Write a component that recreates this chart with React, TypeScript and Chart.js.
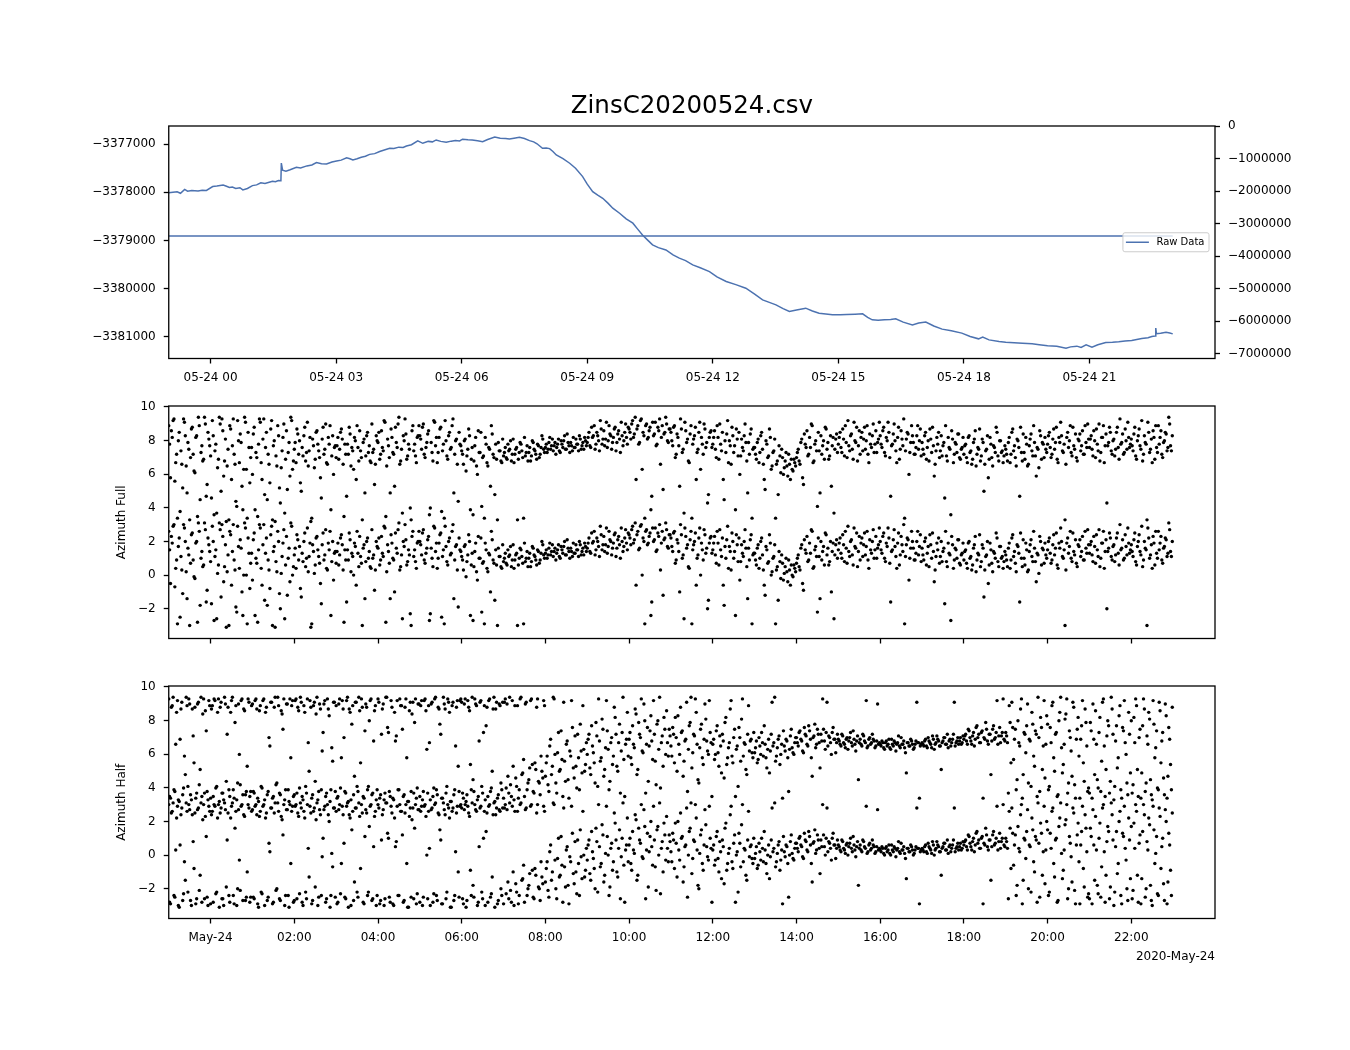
import React, { useEffect, useRef } from 'react';
import { Chart, registerables } from 'chart.js';

Chart.register(...registerables);

// ---------------- data ----------------
const FILE_TITLE = 'ZinsC20200524.csv';
const RAW_LABEL = 'Raw Data';
const AZ_FULL_LABEL = 'Azimuth Full';
const AZ_HALF_LABEL = 'Azimuth Half';
const DATE_OFFSET_LABEL = '2020-May-24';

// hours relative to 2020-05-24 00:00
const X_MIN_HOUR = -1;
const X_MAX_HOUR = 24;

// [hour, raw value]
const RAW_HOUR_VALUE: [number, number][] = [
  [-1.0, -3378010], [-0.9, -3378000], [-0.8, -3377990], [-0.72, -3378020], [-0.62, -3377940], [-0.55, -3377975],
  [-0.45, -3377960], [-0.3, -3377970], [-0.2, -3377955], [-0.1, -3377960], [0.05, -3377880], [0.15, -3377870],
  [0.3, -3377850], [0.38, -3377875], [0.45, -3377900], [0.52, -3377890], [0.6, -3377920], [0.7, -3377905],
  [0.77, -3377950], [0.88, -3377920], [1.0, -3377860], [1.1, -3377845], [1.2, -3377800], [1.3, -3377815],
  [1.4, -3377790], [1.48, -3377770], [1.55, -3377780], [1.62, -3377755], [1.68, -3377760], [1.69, -3377390],
  [1.72, -3377540], [1.8, -3377560], [1.9, -3377530], [2.05, -3377480], [2.15, -3377495], [2.3, -3377450],
  [2.42, -3377430], [2.53, -3377380], [2.65, -3377405], [2.77, -3377410], [2.9, -3377370], [3.01, -3377350],
  [3.12, -3377330], [3.25, -3377280], [3.33, -3377300], [3.4, -3377325], [3.5, -3377300], [3.6, -3377270],
  [3.7, -3377250], [3.8, -3377210], [3.92, -3377195], [4.04, -3377150], [4.15, -3377120], [4.28, -3377085],
  [4.38, -3377090], [4.5, -3377060], [4.6, -3377065], [4.68, -3377035], [4.8, -3377010], [4.95, -3376930],
  [5.07, -3376980], [5.2, -3376940], [5.3, -3376950], [5.39, -3376910], [5.5, -3376940], [5.63, -3376960],
  [5.75, -3376935], [5.85, -3376920], [5.95, -3376930], [6.02, -3376895], [6.15, -3376905], [6.25, -3376910],
  [6.38, -3376925], [6.5, -3376945], [6.62, -3376900], [6.79, -3376850], [6.92, -3376875], [7.05, -3376880],
  [7.14, -3376890], [7.25, -3376875], [7.38, -3376855], [7.5, -3376880], [7.62, -3376925], [7.72, -3376950],
  [7.8, -3376990], [7.93, -3377085], [8.02, -3377080], [8.1, -3377090], [8.18, -3377150], [8.26, -3377222],
  [8.42, -3377300], [8.58, -3377395], [8.72, -3377500], [8.89, -3377673], [9.0, -3377830], [9.13, -3377985],
  [9.25, -3378060], [9.37, -3378123], [9.5, -3378230], [9.61, -3378330], [9.78, -3378440], [9.93, -3378553],
  [10.09, -3378642], [10.2, -3378760], [10.32, -3378886], [10.45, -3379000], [10.56, -3379093], [10.7, -3379150],
  [10.88, -3379198], [11.05, -3379300], [11.2, -3379370], [11.35, -3379420], [11.52, -3379510], [11.7, -3379570],
  [11.92, -3379648], [12.1, -3379760], [12.32, -3379856], [12.55, -3379920], [12.79, -3379994], [13.0, -3380120],
  [13.19, -3380237], [13.35, -3380290], [13.51, -3380341], [13.68, -3380420], [13.83, -3380480], [14.0, -3380450],
  [14.22, -3380410], [14.38, -3380470], [14.54, -3380514], [14.7, -3380530], [14.86, -3380549], [15.05, -3380545],
  [15.2, -3380540], [15.4, -3380535], [15.58, -3380528], [15.7, -3380600], [15.81, -3380653], [15.95, -3380660],
  [16.1, -3380650], [16.25, -3380645], [16.37, -3380632], [16.55, -3380700], [16.77, -3380757], [16.92, -3380720],
  [17.09, -3380700], [17.28, -3380780], [17.48, -3380846], [17.7, -3380880], [17.95, -3380929], [18.15, -3381000],
  [18.35, -3381048], [18.45, -3381010], [18.6, -3381070], [18.84, -3381104], [19.0, -3381120], [19.2, -3381130],
  [19.4, -3381140], [19.63, -3381152], [19.8, -3381170], [20.0, -3381190], [20.22, -3381200], [20.44, -3381241],
  [20.55, -3381215], [20.7, -3381200], [20.8, -3381225], [20.92, -3381173], [21.06, -3381220], [21.2, -3381170],
  [21.39, -3381125], [21.55, -3381120], [21.7, -3381110], [21.85, -3381095], [22.01, -3381083], [22.25, -3381040],
  [22.4, -3381025], [22.49, -3381000], [22.57, -3380990], [22.585, -3380825], [22.6, -3380940], [22.7, -3380930],
  [22.83, -3380909], [22.92, -3380925], [22.99, -3380944],
];

const LEFT_Y_MIN = -3381457;
const LEFT_Y_MAX = -3376620;
const LEFT_Y_TICKS = [-3381000, -3380000, -3379000, -3378000, -3377000];
const RIGHT_Y_MIN = -7145000;
const RIGHT_Y_MAX = 0;
const RIGHT_Y_TICKS = [-7000000, -6000000, -5000000, -4000000, -3000000, -2000000, -1000000, 0];

const TOP_X_TICKS = [0, 3, 6, 9, 12, 15, 18, 21];
const TOP_X_LABELS = ['05-24 00', '05-24 03', '05-24 06', '05-24 09', '05-24 12', '05-24 15', '05-24 18', '05-24 21'];
const BOTTOM_X_TICKS = [0, 2, 4, 6, 8, 10, 12, 14, 16, 18, 20, 22];
const BOTTOM_X_LABELS = ['May-24', '02:00', '04:00', '06:00', '08:00', '10:00', '12:00', '14:00', '16:00', '18:00', '20:00', '22:00'];

const AZ_Y_MIN = -3.77;
const AZ_Y_MAX = 10.05;
const AZ_Y_TICKS = [-2, 0, 2, 4, 6, 8, 10];
const PHASE_WRAP = 2 * Math.PI; // each azimuth is also plotted one full turn higher

// azimuth samples every 2.5 minutes from 23:00 (May 23); the B series sits half a step later
const SAMPLE_START_HOUR = -1;
const SAMPLE_STEP_HOUR = 1 / 24;
const SAMPLE_B_OFFSET_HOUR = 1 / 48;

const AZ_FULL_A = [
  2.6, -0.5, 1.9, 3.0, 0.4, -2.9, 2.2, 1.1, -1.1, 2.8, 0.2, 1.6, -3.0, 2.4, 0.9, -0.2, 2.0, 3.1, -1.8, 1.4, 0.6, 2.7, -0.9, 1.8,
  0.8, 2.9, -2.7, 1.5, 0.1, 3.1, -1.3, 2.3, 0.5, -3.1, 1.2, 2.6, -0.6, 3.0, 0.3, -2.2, 1.7, 2.1, -1.0, 0.0, 2.8, -2.9, 1.3, 0.7,
  -0.3, 2.5, 1.0, -2.8, 3.0, 0.4, 1.8, -1.5, 2.2, 0.9, -0.8, 2.9, 1.4, -3.1, 0.2, 2.0, -2.0, 1.1, 2.7, 0.6, -1.2, 1.6, 3.1, 0.0,
  1.2, 0.4, 2.1, 1.7, -1.3, 0.8, 2.5, 1.0, 0.2, 1.9, -2.9, 1.4, 0.6, 2.3, 1.1, -0.5, 1.8, 0.9, 2.7, 0.3, 1.5, -2.4, 2.0, 1.3,
  0.7, 1.9, 1.2, 2.4, 0.3, 1.5, -1.6, 0.9, 2.1, 1.3, 0.0, 1.7, 2.6, 0.5, 1.1, -3.0, 1.8, 0.8, 2.2, 1.4, 0.4, 1.0, -0.9, 2.0,
  1.6, 0.6, 2.3, 1.1, 2.8, 0.2, 1.4, -1.4, 1.9, 0.9, 2.5, 1.3, 3.1, 0.5, -2.6, 1.7, 2.1, 0.8, 1.2, -3.0, 2.6, 1.5, 0.4, 2.0,
  2.0, 1.2, 2.7, 0.7, 1.6, 2.3, -2.3, 1.0, 2.9, 1.4, 0.4, 1.9, 2.5, 1.1, -2.9, 1.7, 0.6, 2.2, 1.3, 3.0, 0.9, 1.8, -1.9, 1.5,
  1.1, 0.3, 1.8, 0.8, 2.4, -2.4, 1.3, 0.5, 1.9, -0.3, 1.0, 2.2, 0.7, -2.9, 1.5, 0.2, 1.2, 2.6, 0.9, -1.5, 0.6, 1.6, 1.1, 0.4,
  0.8, 1.3, 0.6, 1.1, 1.7, 0.9, 0.4, 1.2, -3.0, 1.0, 1.5, 0.7, 1.9, 1.0, 0.5, 1.3, 0.8, 1.6, 1.1, 0.6, 1.4, 0.9, 2.0, 1.2,
  1.3, 1.0, 1.6, 1.2, 1.8, 1.4, 0.9, 1.5, 1.1, 1.7, 1.3, 2.0, 1.2, 1.6, 1.0, 1.4, 1.9, 1.3, 1.5, 1.1, 1.8, 1.4, 1.2, 1.7,
  1.6, 2.2, 1.3, 1.9, 2.6, 1.5, 2.0, 1.1, 2.4, 1.8, 1.4, 2.8, 1.7, 2.1, 1.2, 1.9, 2.5, 1.6, 2.3, 1.0, 2.0, 1.7, 2.7, 1.5,
  2.4, 1.8, 2.9, 2.1, -0.6, 2.6, 1.6, 3.0, 2.2, -2.9, 2.7, 1.9, 2.5, -1.6, 2.0, 2.8, 1.5, 2.3, 0.3, 2.6, 2.1, 3.1, 1.7, 2.4,
  2.2, 1.4, 2.6, 0.9, 1.9, -1.0, 2.4, 1.2, 2.8, 1.6, 0.5, 2.1, -2.9, 1.8, 2.5, 1.0, 2.2, 0.0, 1.5, 2.7, 1.3, -2.0, 1.9, 2.3,
  1.5, 2.3, 0.7, 1.9, 2.7, 1.1, -0.6, 1.7, 2.1, 0.4, 1.4, 2.5, 1.0, -2.4, 1.8, 2.2, 0.8, 1.3, 2.0, 1.6, -1.4, 0.9, 2.4, 1.2,
  1.3, 0.6, 1.8, 1.0, 2.2, 0.3, -1.2, 1.5, 0.8, 1.9, 0.2, 1.1, -2.9, 0.5, 1.4, -0.2, 0.7, 0.1, 1.0, -0.4, 0.3, 0.6, -0.1, 0.4,
  0.7, 1.2, 0.3, 1.8, -0.9, 1.5, 2.3, 0.9, 1.3, 2.6, 0.5, 1.7, -2.2, 1.1, 2.0, 1.4, 0.6, 2.4, 1.6, 0.8, -1.0, 1.9, 1.2, 2.1,
  1.5, 2.2, 1.0, 1.8, 2.6, 0.7, 1.4, 2.0, 1.2, 2.8, 1.6, 0.5, 2.3, 1.9, 1.1, 2.5, 1.7, 0.9, 2.1, 1.3, 2.7, 1.5, 1.0, 1.8,
  2.0, 1.3, 2.5, 0.8, 1.7, 2.2, -1.6, 1.5, 2.7, 1.1, 1.9, 0.6, 2.3, 1.4, -2.9, 1.8, 2.1, 1.0, 2.6, 1.6, 0.9, 2.0, 1.2, 2.4,
  1.6, 0.9, 2.2, 1.3, 0.5, 1.8, 2.5, -0.4, 1.1, 1.5, 0.7, 2.0, 1.4, -1.7, 0.8, 1.9, 1.2, 2.3, 0.4, 1.6, 1.0, 2.1, 0.6, 1.3,
  0.9, 1.5, 0.4, 2.0, 1.1, 0.6, 1.8, 0.2, 1.3, 2.4, 0.8, 1.6, 0.3, 1.2, -0.5, 1.9, 0.7, 1.4, 1.0, 2.2, 0.5, 1.7, 1.1, 0.8,
  1.2, 0.5, 1.9, 0.9, 2.4, 1.4, 0.2, 1.7, -1.6, 1.0, 2.1, 0.6, 1.5, 0.3, 1.8, 1.1, 2.6, 0.8, 1.3, 0.1, 2.0, 1.6, 0.7, 1.2,
  1.5, 2.2, 0.7, 1.8, 1.2, 2.5, 0.4, 1.6, 2.0, 1.0, -3.0, 1.9, 1.3, 2.6, 0.8, 1.4, 2.1, 0.5, 1.7, 1.1, 2.3, 0.9, 1.6, 2.7,
  1.3, 2.0, 0.8, 1.7, 2.4, 1.1, 0.5, 1.9, 2.6, 1.4, -2.0, 1.6, 2.2, 0.9, 1.8, 1.2, 2.5, 0.6, 1.5, 2.1, 1.0, 1.7, 2.8, 1.3,
  1.8, 1.1, 2.5, 0.6, 2.0, 1.4, 2.9, 0.9, 1.6, -3.0, 2.2, 1.2, 0.4, 1.9, 2.6, 1.0, 1.5, 2.3, 0.7, 1.7, 2.1, 1.3, 2.7, 1.1,
];

const AZ_FULL_B = [
  1.5, 2.3, 2.9, -0.7, 0.9, 1.7, -2.5, 0.3, 3.0, 2.0, -1.4, 1.2, 0.7, 2.5, -0.1, 1.9, -2.8, 2.6, 1.0, 0.5, 3.1, -1.6, 2.2, 1.4,
  -1.7, 2.0, 1.1, -2.6, 0.6, 2.7, 3.0, -0.4, 1.8, 0.2, -3.0, 2.4, 1.4, 0.9, -1.9, 2.9, 0.4, 1.6, -2.4, 3.1, 0.0, 2.2, -0.8, 1.3,
  2.1, -2.4, 0.7, 1.5, 2.8, -0.6, 3.0, 1.3, -1.8, 0.3, 2.4, -3.0, 1.7, 0.8, 2.6, -1.1, 0.1, 1.9, -2.6, 2.3, 1.0, -0.4, 2.9, 0.5,
  1.6, 2.4, 0.9, -0.8, 1.3, 2.0, 0.5, 2.8, 1.1, -3.1, 1.8, 0.1, 2.2, 1.5, 0.7, -1.7, 2.5, 1.2, 0.4, 1.9, 2.6, 0.8, -0.3, 1.4,
  1.4, 0.6, 2.2, 1.8, -2.8, 0.9, 1.5, 2.5, 0.2, 1.1, 1.9, -0.6, 1.3, 2.3, 0.7, 1.6, -1.4, 2.0, 1.0, 0.5, 2.7, 1.2, 0.3, 1.7,
  2.2, 0.9, 1.3, 2.9, -2.8, 1.8, 0.7, 2.4, 1.0, -1.0, 1.6, 2.7, 0.3, 1.2, 2.0, 3.0, 0.6, 1.5, -2.3, 2.3, 1.1, 0.8, 1.9, 2.6,
  1.8, 2.5, 0.9, 1.3, 2.1, -2.7, 1.6, 0.5, 2.8, 1.9, 1.0, 2.4, -2.5, 1.5, 2.9, 0.8, 2.0, 1.2, 2.6, -1.4, 1.7, 0.3, 2.2, 1.4,
  0.9, 1.7, -0.1, 1.2, 2.0, 0.6, -2.7, 1.4, 0.2, 2.3, 1.0, -2.2, 0.8, 1.9, 0.4, 1.3, -1.0, 2.1, 0.7, 1.5, -3.0, 1.1, 0.5, 1.8,
  1.0, 0.7, 1.5, 1.2, 0.5, 1.8, 0.9, 1.3, 0.6, 1.6, 1.1, -2.9, 0.8, 1.4, 1.0, 0.5, 1.7, 1.2, 0.9, 1.5, 0.7, 1.3, 1.8, 1.0,
  1.5, 1.2, 1.9, 1.4, 1.1, 1.6, 1.3, 1.8, 1.0, 1.5, 1.7, 1.2, 2.1, 1.4, 1.6, 1.1, 1.3, 1.8, 1.5, 2.0, 1.2, 1.6, 1.9, 1.4,
  1.9, 1.4, 2.5, 2.0, 1.2, 2.2, 1.7, 2.9, 1.5, 2.3, 1.8, 1.3, 2.6, 2.0, 1.6, 2.4, 1.1, 2.1, 1.8, 2.8, 1.4, 2.2, 1.9, 2.5,
  2.2, 2.7, 1.9, 3.1, 2.4, 1.5, 2.9, 0.0, 2.0, 2.6, 1.8, 2.3, -2.4, 2.8, 2.1, 1.4, 2.5, 3.0, 1.9, -1.2, 2.2, 2.7, 1.6, 2.4,
  1.7, 2.5, 0.7, 2.1, 1.4, 3.0, 1.0, -2.6, 2.3, 1.8, 0.4, 2.6, 1.5, 2.0, -0.6, 1.2, 2.8, 1.9, 0.9, 2.4, 1.6, -1.5, 2.2, 1.3,
  1.9, 1.2, 2.6, 0.6, 1.5, 2.2, -1.8, 1.0, 2.9, 1.7, 0.3, 2.0, 1.4, 2.4, 0.8, -0.3, 1.8, 1.1, 2.7, 0.5, 1.6, 2.1, -2.9, 1.3,
  0.9, 1.6, 0.4, 2.0, 1.2, -0.6, 1.7, 0.7, 2.4, 0.0, 1.0, 1.8, 0.3, -1.5, 0.8, 1.2, -0.3, 0.5, 0.2, 0.9, -0.6, 0.0, 0.6, 0.2,
  1.0, 0.5, 1.6, -0.5, 2.1, 1.3, 0.8, 1.9, 2.7, 0.4, 1.5, 1.1, 2.2, -1.4, 0.9, 1.7, 2.5, 1.2, 0.6, 2.0, 1.4, -2.6, 1.8, 1.0,
  1.9, 1.3, 2.4, 0.8, 1.6, 2.9, 1.1, 2.1, 0.6, 1.7, 2.5, 1.4, 0.9, 2.2, 1.8, 1.2, 2.6, 0.4, 1.5, 2.0, 1.0, 2.3, 1.6, 2.8,
  1.5, 2.3, 1.0, 1.9, 2.8, 0.7, 1.4, 2.1, 1.7, 0.4, 2.5, 1.2, 1.8, 3.0, 1.1, 2.2, -0.3, 1.6, 2.0, 0.9, 1.3, 2.6, 1.7, 0.8,
  1.2, 2.0, 0.6, 1.7, 2.4, 1.0, 1.4, 0.3, 1.9, 2.2, 1.1, 0.8, 1.6, 2.6, 0.5, 1.3, -2.7, 1.8, 0.9, 1.5, 2.1, 0.7, 1.2, 1.9,
  1.4, 0.7, 1.9, 1.0, 0.3, 1.6, 2.3, 0.9, 1.2, 0.5, 1.8, -1.3, 1.1, 2.0, 0.6, 1.5, 0.2, 1.3, 2.5, 0.8, 1.7, 1.0, 0.4, 1.4,
  0.9, 1.6, 0.4, 2.2, 1.1, 0.7, 1.8, 1.3, 2.5, 0.5, 1.0, 1.9, 0.2, 1.4, 2.1, 0.8, 1.6, -0.4, 1.2, 2.3, 0.6, 1.5, 1.9, 1.0,
  2.0, 1.3, 0.9, 2.4, 1.6, 0.6, 1.9, 2.8, 1.1, 1.5, 0.3, 2.2, 1.7, 1.0, 2.5, 1.2, 0.7, 1.8, 2.1, 1.4, 0.9, 2.6, 1.3, 1.8,
  1.8, 1.2, 2.3, 0.7, 1.5, 2.7, 1.0, 1.9, 0.4, 2.1, 1.4, 2.5, 1.1, 1.7, 0.8, 2.2, 1.3, 3.0, 1.6, 0.9, 2.4, 1.2, 1.9, 1.5,
  1.4, 2.1, 0.8, 1.7, 2.4, 1.2, 0.5, 2.0, 1.5, 2.8, 1.0, 1.8, 2.3, 0.6, 1.3, 2.6, 1.9, 0.9, 1.6, 2.2, 1.1, 3.1, 1.4, 2.0,
];

const AZ_HALF_A = [
  3.0, -2.9, 2.6, -2.4, 0.3, 2.9, -3.1, 2.4, -2.7, -0.4, 3.1, -2.2, 2.7, -3.0, 0.8, 2.5, -2.6, 2.8, -1.2, -2.8, 3.0, 2.3, -2.5, 2.9,
  -2.9, 2.6, 3.0, -2.3, 2.2, -3.1, 2.8, -2.6, 3.1, -1.9, 2.5, -2.8, 2.9, -2.4, 1.6, -3.0, 2.7, -2.1, 3.0, 2.4, -2.7, -1.0, 2.8, -2.5,
  2.7, -2.6, 3.0, -2.9, 2.3, -2.2, 2.9, -3.0, 2.5, -2.5, 0.2, 2.8, -2.8, 3.1, -2.0, 2.6, -2.7, 2.1, 3.0, -2.4, 2.7, -3.1, -0.5, 2.9,
  -2.7, 3.0, 2.5, -2.3, 2.8, -3.0, 2.2, -2.6, 0.4, 2.9, -2.9, 2.6, -1.9, 3.1, -2.5, 2.4, -0.1, 2.7, -2.8, 3.0, 2.0, -2.4, -0.7, 2.8,
  2.6, -2.8, 3.0, -0.5, 2.4, -2.5, 2.9, -3.1, 2.2, 1.5, -2.7, 2.8, -2.2, 3.1, -0.8, 2.5, -2.9, 2.7, -2.4, 1.7, 3.0, -2.6, 2.3, -3.0,
  3.0, -2.9, 0.9, 2.7, -2.6, 3.1, 1.0, -2.8, 2.5, -3.0, 0.5, 2.9, -2.4, 2.6, 1.2, -2.7, 3.0, -3.1, 2.3, -2.5, 2.8, 1.6, -2.9, 2.7,
  -2.8, 2.9, -2.5, 3.0, 0.0, 2.6, -3.0, 2.8, -2.3, 3.1, -2.7, 2.4, 0.9, -2.9, 2.7, -2.6, 3.0, 2.2, -3.1, 2.8, -2.4, 2.5, -1.0, 2.9,
  2.8, -2.9, 3.0, -2.7, 2.5, -0.9, 3.1, -2.5, 2.7, -3.0, 0.5, 2.9, -2.6, 2.6, 1.4, -2.8, 3.0, -2.3, 2.4, -3.1, 2.8, -2.7, 2.6, -2.4,
  -2.9, 3.0, 2.7, -2.6, -2.1, 2.9, -3.0, -1.7, 2.6, -2.4, 3.1, -1.4, -2.8, 2.8, -2.0, -1.1, 3.0, -2.5, -0.8, 2.5, -1.9, -2.7, -1.3, 2.9,
  -1.6, -0.4, -2.5, 0.6, -1.0, 3.0, -2.0, -0.2, -1.3, 1.1, -2.8, -0.7, 0.3, -1.8, -0.1, 2.9, -1.1, 0.8, -2.3, -0.5, 1.5, -1.4, 0.0, -0.9,
  -0.3, 0.9, -1.5, 0.2, -0.8, 1.6, -2.2, 0.5, -0.5, 1.2, -1.2, 2.9, 0.0, -1.9, 0.7, -0.4, 1.9, -1.0, 0.4, -2.6, 1.0, -0.6, 0.3, 2.2,
  0.6, -0.5, 1.4, 0.1, 2.1, -1.2, 0.9, 3.0, -0.2, 1.7, 0.3, -1.9, 1.1, 0.5, 2.9, -0.7, 1.5, 0.0, -2.3, 0.8, 1.9, -0.3, 0.4, 1.2,
  0.2, 1.3, -0.8, 0.7, 2.0, -0.3, 1.0, -1.6, 0.5, 2.8, 0.0, 1.6, -1.1, 0.9, 3.0, 0.3, -2.0, 1.2, -0.5, 0.6, 1.8, -0.1, 2.9, 0.4,
  0.3, -0.6, 1.1, -0.2, 0.8, -1.4, 0.5, 1.6, -0.9, 0.1, 2.4, -0.4, 0.7, -2.8, 0.2, 1.3, -0.7, 3.0, 0.4, -1.2, 0.9, -0.1, 0.6, -0.5,
  -0.2, 0.5, -0.6, 0.2, 1.0, -0.4, 0.3, -1.1, 0.6, -0.1, 2.8, 0.4, -0.7, 0.1, 0.8, -0.3, -2.9, 0.2, 0.6, -0.5, 0.0, 1.2, -0.2, 0.4,
  0.7, 0.2, 1.1, 0.5, -0.2, 0.9, 0.3, 1.4, 0.6, -1.6, 0.8, 0.1, 1.2, 0.4, 0.9, 3.0, 0.5, 1.0, 0.2, 0.7, -0.3, 1.3, 0.6, 0.4,
  0.6, 0.3, 0.9, 0.4, 0.1, 0.7, 0.5, 1.0, 0.2, 0.6, -0.1, 0.8, 0.4, 0.3, 0.9, 0.5, 2.9, 0.2, 0.7, 0.4, 0.6, 0.1, 0.5, 0.3,
  0.3, 0.5, 0.1, 0.4, 0.2, 0.6, 0.0, 0.3, 0.5, -0.1, 0.4, 0.2, 0.7, 0.3, 0.1, -1.4, 0.4, 0.2, 0.5, 0.0, 0.3, 2.8, 0.4, 0.2,
  0.4, 0.2, 0.6, 0.1, 0.5, 0.3, 0.8, 0.0, 0.4, 0.6, 0.2, -1.2, 0.5, 0.7, 0.3, 0.1, 0.6, 0.4, 0.9, 0.2, 0.5, 0.3, 0.7, 0.4,
  0.6, 0.9, 0.3, 1.1, 0.5, 0.8, 0.2, 1.3, 0.7, 0.4, 1.0, -2.9, 0.6, 1.2, 0.3, 0.9, 0.5, 1.4, 0.7, 2.9, 0.8, 0.4, 1.0, 0.6,
  1.0, 0.4, 2.6, -0.8, 1.3, 0.6, -2.4, 1.7, 0.2, 3.0, -1.5, 0.9, 1.4, -2.0, 0.5, 2.2, -0.4, 1.1, -2.8, 0.7, 1.9, -1.2, 2.9, 0.3,
  1.5, -2.2, 0.4, 2.8, -1.3, 1.0, -2.7, 2.2, 0.1, -0.9, 1.8, 3.0, -2.0, 0.7, -1.6, 2.5, -2.9, 1.2, -0.4, 0.6, 2.9, -1.9, 1.6, -2.5,
  -2.6, 1.1, 2.7, -1.5, 0.3, -2.3, 1.9, -0.7, 3.0, -2.8, 0.8, 1.4, -1.9, 2.4, -3.0, 0.5, -1.1, 2.0, -2.4, 1.3, 2.9, -0.3, -2.7, 0.9,
  1.7, -2.1, 0.4, 2.6, -2.8, 1.2, -1.4, 3.0, -2.5, 0.8, 2.2, -1.8, -3.0, 1.5, 0.1, -2.3, 2.8, -0.8, 1.0, -2.7, 2.0, -1.6, 0.6, -2.4,
];

const AZ_HALF_B = [
  -2.8, 2.5, 3.1, -2.5, 2.2, -3.0, 0.6, 2.8, -2.3, -1.5, 2.6, 3.0, -2.7, 2.4, -0.8, -2.9, 2.7, -2.1, 3.1, 2.1, -2.6, 1.1, -3.0, 2.6,
  2.4, -2.8, 2.9, -2.2, 3.0, 2.5, -2.6, -3.0, 2.7, 0.9, -2.4, 2.2, 3.1, -2.9, 2.6, -2.0, -0.3, 2.9, -2.7, 2.3, -2.5, 3.0, -2.8, 2.6,
  -2.5, 2.9, 2.4, -3.1, 2.6, -2.3, 3.0, 2.2, -2.7, 0.7, 2.8, -2.9, 2.5, -2.1, 3.1, -2.6, 2.3, 1.2, -3.0, 2.7, -2.4, 3.0, 2.6, -2.8,
  2.9, -2.6, 2.3, 3.1, -2.8, 2.6, -2.2, 3.0, -1.3, 2.5, -2.7, 2.8, 2.1, -3.0, 2.7, -2.4, 1.0, 2.9, -2.6, 2.4, -3.1, 0.1, 2.8, -2.5,
  -2.9, 2.7, -2.3, 2.9, 0.7, -2.6, 3.1, 2.4, -3.0, 2.6, -1.6, 2.8, -2.5, 2.3, 3.0, -2.8, 1.1, 2.5, -2.2, 2.9, -2.7, 0.5, 2.6, -2.4,
  2.8, -2.7, 2.4, -3.0, 3.1, 1.3, -2.5, 2.9, -2.9, 2.2, 0.8, -2.4, 3.0, 2.6, -2.8, 2.5, -0.5, -3.1, 2.8, 2.1, -2.6, 3.0, -2.3, 2.7,
  2.6, -3.0, 2.9, 2.3, -2.6, 0.4, 2.7, -2.8, 3.0, -2.4, 2.5, 1.5, -2.9, 3.1, 2.4, -2.2, 2.8, -3.1, 2.6, -2.7, 0.2, 2.9, -2.5, 3.0,
  -2.6, 2.7, -3.1, 2.9, 2.3, -2.4, -1.8, 3.0, 2.6, -2.8, 2.8, -2.2, 1.0, -3.0, 2.5, 2.9, -2.5, -1.3, 3.1, 2.4, -2.9, 2.7, -2.0, 2.8,
  2.8, -2.3, -1.6, 3.1, -2.8, -1.0, 2.6, -2.2, -2.9, 3.0, -1.5, -0.6, 2.7, -2.4, -1.8, 2.9, -0.9, -2.6, -1.2, 3.0, -2.0, -0.4, -1.7, 2.6,
  -0.8, -2.1, 0.2, -1.5, 3.1, -0.3, -2.6, 1.0, -1.2, -0.6, 2.8, -1.9, 0.5, -2.9, -0.4, 1.3, -1.7, -1.0, 0.9, -2.4, -0.1, 2.6, -1.3, 0.4,
  0.6, -1.1, 1.4, -0.2, -2.0, 0.8, 3.0, -0.7, 1.8, -1.6, 0.1, 1.1, -2.4, 0.4, -0.9, 2.5, 0.9, -1.3, 1.5, -0.1, 3.1, -2.8, 0.6, -0.4,
  1.0, -0.9, 0.3, 2.4, -1.5, 1.6, 0.7, -0.1, 2.7, -2.6, 1.3, 0.2, 2.0, -0.6, 0.9, -2.1, 1.7, 3.1, 0.4, -1.0, 1.2, 2.3, -0.4, 0.8,
  -0.4, 0.9, 1.9, -1.3, 0.3, 2.5, 1.1, -0.7, 0.6, -2.5, 1.4, 3.1, -0.2, 0.8, 2.2, -1.8, 0.1, 1.5, -0.9, 2.7, 0.5, -0.3, 1.0, -2.8,
  0.6, -0.3, 1.4, -1.0, 0.2, 0.9, -1.7, 1.9, -0.5, 0.4, 2.9, -0.8, 1.2, 0.0, -2.2, 0.7, 1.8, -0.4, 0.3, -1.5, 2.6, 0.5, -0.2, 1.0,
  0.1, -0.8, 0.7, -0.3, 0.4, 1.4, -0.5, 0.0, -1.4, 0.9, 0.2, 3.1, -0.4, 0.6, -0.9, 0.3, 1.1, -0.1, 0.5, -2.5, 0.8, 0.1, -0.3, 0.7,
  0.4, 1.0, 0.6, -0.1, 1.3, 0.8, 0.2, 1.1, -0.5, 0.7, 1.5, 0.3, 0.9, -1.1, 0.5, 1.2, 0.0, 2.8, 0.8, 0.4, 1.0, 0.6, -0.2, 0.9,
  0.5, 0.2, 0.8, 0.3, 0.6, 0.0, 0.7, 0.4, 1.1, 0.3, 0.5, -1.8, 0.6, 0.2, 0.8, 0.4, 0.1, 0.6, 0.3, 0.9, 0.5, 0.2, 2.7, 0.4,
  0.2, 0.4, 0.0, 0.5, 0.3, 0.1, 0.6, 0.2, 0.4, 0.3, 0.8, 0.1, 0.3, 0.5, -0.2, 0.4, 0.2, 0.6, 0.3, 0.1, 0.5, 0.4, -2.9, 0.3,
  0.3, 0.5, 0.2, 0.7, 0.4, 0.1, 0.6, 0.3, 0.8, 0.5, 0.2, 0.4, 0.7, 0.3, 0.9, 0.5, 0.2, 0.6, 2.8, 0.4, 0.7, 0.5, 0.3, 0.8,
  0.8, 0.5, 1.2, 0.7, 0.3, 1.0, 0.6, 1.4, 0.9, 0.4, 1.1, 0.7, 1.6, 0.5, 0.9, -1.5, 1.2, 0.6, 1.0, 0.3, 1.3, 0.8, 3.0, 0.5,
  0.8, -2.6, 1.6, 2.8, -0.6, 1.2, -1.8, 0.4, 2.4, -2.9, 1.0, -0.2, 2.7, 0.6, -2.2, 1.5, -1.0, 0.9, 3.1, -2.5, 1.3, 0.2, -1.7, 2.0,
  -2.4, 1.3, 2.6, -0.5, 0.9, -2.8, 1.7, 3.1, -1.4, 0.3, 2.1, -2.6, 1.1, -0.1, 2.8, -2.1, 0.6, 1.9, -2.9, 1.4, -0.8, 2.4, 0.2, -2.3,
  1.6, -2.9, 0.6, 2.3, -1.8, 1.0, -2.5, 2.8, 0.2, -1.2, 1.7, -2.6, 3.1, 0.9, -2.2, 1.4, -0.5, 2.6, -2.9, 1.1, 0.4, -2.0, 2.2, -1.4,
  -2.6, 1.9, 3.0, -1.2, 0.7, -2.9, 1.4, 2.4, -2.0, 0.3, 1.8, -2.7, 2.9, -0.5, 1.1, -2.4, 2.3, 0.5, -1.7, 2.7, -2.9, 1.3, -0.9, 2.5,
];

// ---------------- styling ----------------
const FONT_FAMILY = '"DejaVu Sans", "Liberation Sans", sans-serif';
const LINE_BLUE = '#4c72b0';
const AXIS_LEFT_W = 168.75;
const AXIS_RIGHT_W = 135;
const PAGE_W = 1350;

const minusFmt = (v: number) => String(v).replace('-', '\u2212');

const tickGrid = {
  display: true,
  drawOnChartArea: false,
  drawTicks: true,
  tickLength: 5,
  tickWidth: 1.3,
  tickColor: '#000',
};

const framePlugin = {
  id: 'axesFrame',
  afterDatasetsDraw(chart: any) {
    const { ctx, chartArea: a } = chart;
    ctx.save();
    ctx.strokeStyle = '#000';
    ctx.lineWidth = 1.3;
    ctx.strokeRect(a.left, a.top, a.right - a.left, a.bottom - a.top);
    ctx.restore();
  },
};

const insideLegendPlugin = {
  id: 'insideLegend',
  afterDatasetsDraw(chart: any) {
    const ds = chart.data.datasets.find((d: any) => d.yAxisID === 'y2');
    if (!ds) return;
    const { ctx, chartArea: a } = chart;
    ctx.save();
    ctx.font = '10px ' + FONT_FAMILY;
    const tw = ctx.measureText(ds.label).width;
    const w = tw + 38;
    const h = 19;
    const x = a.right - 6 - w;
    const y = (a.top + a.bottom) / 2 - h / 2;
    ctx.beginPath();
    if (ctx.roundRect) ctx.roundRect(x, y, w, h, 2);
    else ctx.rect(x, y, w, h);
    ctx.fillStyle = 'rgba(255,255,255,0.8)';
    ctx.fill();
    ctx.strokeStyle = '#cccccc';
    ctx.lineWidth = 1;
    ctx.stroke();
    ctx.beginPath();
    ctx.moveTo(x + 3, y + h / 2);
    ctx.lineTo(x + 26, y + h / 2);
    ctx.strokeStyle = ds.borderColor;
    ctx.lineWidth = 1.5;
    ctx.stroke();
    ctx.fillStyle = '#000';
    ctx.textBaseline = 'middle';
    ctx.textAlign = 'left';
    ctx.fillText(ds.label, x + 33.5, y + h / 2 + 0.5);
    ctx.restore();
  },
};

function xAxis(tickVals: number[], labels: string[], height: number, showLabels: boolean, title?: any) {
  return {
    type: 'linear',
    position: 'bottom',
    min: X_MIN_HOUR,
    max: X_MAX_HOUR,
    afterBuildTicks: (s: any) => {
      s.ticks = tickVals.map((v) => ({ value: v }));
    },
    afterFit: (s: any) => {
      s.height = height;
    },
    grid: tickGrid,
    border: { display: false },
    ticks: {
      display: showLabels,
      autoSkip: false,
      maxRotation: 0,
      padding: 7.5,
      color: '#000',
      font: { size: 12, family: FONT_FAMILY },
      callback: (_v: any, i: number) => labels[i] ?? '',
    },
    title: title || { display: false },
  };
}

function yAxis(position: string, min: number, max: number, tickVals: number[], width: number, title?: any) {
  return {
    type: 'linear',
    position,
    min,
    max,
    afterBuildTicks: (s: any) => {
      s.ticks = tickVals.map((v) => ({ value: v }));
    },
    afterFit: (s: any) => {
      s.width = width;
    },
    grid: tickGrid,
    border: { display: false },
    ticks: {
      autoSkip: false,
      padding: 8,
      color: '#000',
      font: { size: 12, family: FONT_FAMILY },
      callback: (v: any) => minusFmt(v),
    },
    title: title || { display: false },
  };
}

function azDatasets(seriesA: number[], seriesB: number[]) {
  const toPoints = (values: number[], offset: number, shift: number) =>
    values.map((v, i) => ({ x: SAMPLE_START_HOUR + offset + i * SAMPLE_STEP_HOUR, y: v + shift }));
  const style = {
    pointRadius: 1.7,
    pointHoverRadius: 1.7,
    pointBackgroundColor: '#000',
    backgroundColor: '#000',
    pointBorderWidth: 0,
    borderWidth: 0,
    showLine: false,
  };
  return [
    { data: toPoints(seriesA, 0, 0), ...style },
    { data: toPoints(seriesB, SAMPLE_B_OFFSET_HOUR, 0), ...style },
    { data: toPoints(seriesA, 0, PHASE_WRAP), ...style },
    { data: toPoints(seriesB, SAMPLE_B_OFFSET_HOUR, PHASE_WRAP), ...style },
  ];
}

function azConfig(seriesA: number[], seriesB: number[], yLabel: string, xHeight: number, showXLabels: boolean, xTitle?: any): any {
  return {
    type: 'scatter',
    data: { datasets: azDatasets(seriesA, seriesB) },
    options: {
      responsive: false,
      animation: false,
      events: [],
      layout: { padding: { top: 16, right: PAGE_W - 1215, left: 0, bottom: 0 } },
      plugins: { legend: { display: false }, tooltip: { enabled: false }, title: { display: false } },
      scales: {
        x: xAxis(BOTTOM_X_TICKS, BOTTOM_X_LABELS, xHeight, showXLabels, xTitle),
        y: yAxis('left', AZ_Y_MIN, AZ_Y_MAX, AZ_Y_TICKS, AXIS_LEFT_W, {
          display: true,
          text: yLabel,
          color: '#000',
          font: { size: 12, family: FONT_FAMILY },
          padding: { top: 114.8, bottom: 0 },
        }),
      },
    },
    plugins: [framePlugin],
  };
}

function topConfig(): any {
  const pts = RAW_HOUR_VALUE.map(([t, v]) => ({ x: t, y: v }));
  const lineStyle = {
    borderColor: LINE_BLUE,
    backgroundColor: LINE_BLUE,
    borderWidth: 1.5,
    pointRadius: 0,
    pointHoverRadius: 0,
    fill: false,
    tension: 0,
  };
  return {
    type: 'line',
    data: {
      datasets: [
        { label: RAW_LABEL, data: pts, yAxisID: 'y', ...lineStyle },
        { label: RAW_LABEL, data: pts, yAxisID: 'y2', ...lineStyle },
      ],
    },
    options: {
      responsive: false,
      animation: false,
      events: [],
      layout: { padding: 0 },
      plugins: {
        legend: { display: false },
        tooltip: { enabled: false },
        title: {
          display: true,
          text: FILE_TITLE,
          fullSize: false,
          color: '#000',
          font: { size: 24.5, weight: 'normal', family: FONT_FAMILY, lineHeight: 1.2 },
          padding: { top: 91.8, bottom: 4.8 },
        },
      },
      scales: {
        x: xAxis(TOP_X_TICKS, TOP_X_LABELS, 41.5, true),
        y: yAxis('left', LEFT_Y_MIN, LEFT_Y_MAX, LEFT_Y_TICKS, AXIS_LEFT_W),
        y2: yAxis('right', RIGHT_Y_MIN, RIGHT_Y_MAX, RIGHT_Y_TICKS, AXIS_RIGHT_W),
      },
    },
    plugins: [framePlugin, insideLegendPlugin],
  };
}

export default function App() {
  const topRef = useRef<HTMLCanvasElement>(null);
  const midRef = useRef<HTMLCanvasElement>(null);
  const botRef = useRef<HTMLCanvasElement>(null);

  useEffect(() => {
    Chart.defaults.font.family = FONT_FAMILY;
    Chart.defaults.color = '#000';
    const charts: Chart[] = [];
    if (topRef.current) charts.push(new Chart(topRef.current, topConfig()));
    if (midRef.current) charts.push(new Chart(midRef.current, azConfig(AZ_FULL_A, AZ_FULL_B, AZ_FULL_LABEL, 41.5, false)));
    if (botRef.current)
      charts.push(
        new Chart(
          botRef.current,
          azConfig(AZ_HALF_A, AZ_HALF_B, AZ_HALF_LABEL, 131.5, true, {
            display: true,
            text: DATE_OFFSET_LABEL,
            align: 'end',
            color: '#000',
            font: { size: 12, family: FONT_FAMILY },
            padding: { top: 0, bottom: 86.1 },
          })
        )
      );
    return () => charts.forEach((c) => c.destroy());
  }, []);

  const cv = (top: number, h: number): React.CSSProperties => ({
    position: 'absolute',
    left: 0,
    top,
    width: PAGE_W,
    height: h,
  });

  return (
    <div style={{ position: 'absolute', left: 0, top: 0, width: PAGE_W, height: 1050, background: '#fff' }}>
      <canvas ref={topRef} width={PAGE_W} height={400} style={cv(0, 400)} />
      <canvas ref={midRef} width={PAGE_W} height={290} style={cv(390, 290)} />
      <canvas ref={botRef} width={PAGE_W} height={380} style={cv(670, 380)} />
    </div>
  );
}
